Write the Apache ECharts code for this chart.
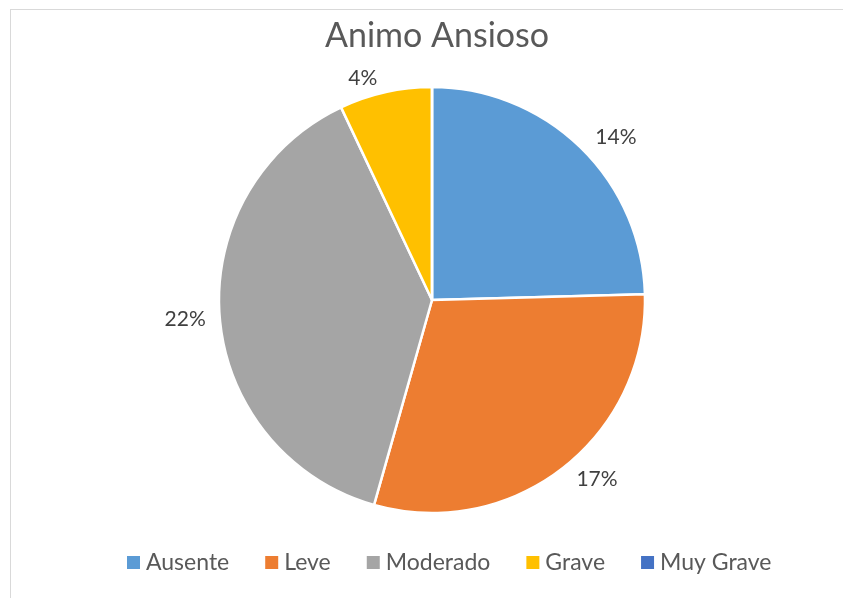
<!DOCTYPE html>
<html>
<head>
<meta charset="utf-8">
<script src="https://cdn.jsdelivr.net/npm/echarts@6/dist/echarts.min.js"></script>
<style>
  html, body { margin: 0; padding: 0; background: #fff; }
  #frame { position: absolute; left: 10px; top: 9px; width: 833px; height: 589px;
           border-top: 1px solid #d9d9d9; border-left: 1px solid #d9d9d9; box-sizing: border-box; }
  #main { position: absolute; left: 0; top: 0; width: 843px; height: 598px; }
</style>
</head>
<body>
<div id="frame"></div>
<div id="main"></div>
<script>
// datos del grafico
var categorias = ['Ausente', 'Leve', 'Moderado', 'Grave', 'Muy Grave'];
var valores = [14, 17, 22, 4, 0];
var colores = ['#5B9BD5', '#ED7D31', '#A5A5A5', '#FFC000', '#4472C4'];

var chart = echarts.init(document.getElementById('main'));

var option = {
  backgroundColor: 'transparent',
  color: colores,
  title: {
    text: 'Animo Ansioso',
    left: 320,
    top: 14,
    textStyle: {
      fontFamily: 'Lato',
      fontSize: 34,
      fontWeight: 'normal',
      color: '#595959'
    }
  },
  legend: {
    bottom: 19,
    left: 120,
    icon: 'rect',
    itemWidth: 15,
    itemHeight: 15,
    itemGap: 34,
    data: categorias,
    textStyle: {
      fontFamily: 'Lato',
      fontSize: 23,
      color: '#595959'
    }
  },
  series: [
    {
      type: 'pie',
      center: [432, 300],
      radius: 213,
      startAngle: 90,
      animation: false,
      itemStyle: {
        borderColor: '#fff',
        borderWidth: 2.5
      },
      label: {
        show: true,
        position: 'outside',
        fontFamily: 'Lato',
        fontSize: 21,
        color: '#404040',
        formatter: function (p) {
          // no mostrar etiqueta si el valor es 0
          return p.value ? p.value + '%' : '';
        }
      },
      labelLine: {
        show: false,
        length: 14,
        length2: 0
      },
      data: categorias.map(function (c, i) {
        return { name: c, value: valores[i] };
      })
    }
  ]
};

chart.setOption(option);
</script>
</body>
</html>
